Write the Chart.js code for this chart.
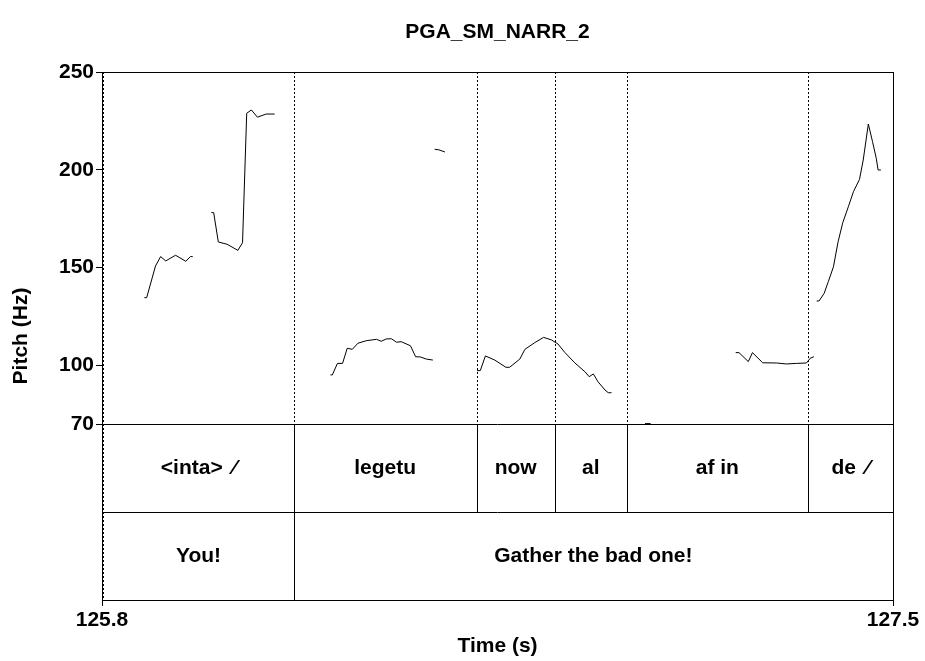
<!DOCTYPE html>
<html>
<head>
<meta charset="utf-8">
<script src="https://cdn.jsdelivr.net/npm/chart.js@4/dist/chart.umd.min.js"></script>
<style>
  html, body { margin: 0; padding: 0; background: #fff; }
  #wrap { width: 925px; height: 661px; }
</style>
</head>
<body>
<div id="wrap"><canvas id="myChart"></canvas></div>
<script>
  // pitch track (s, Hz); null = unvoiced gap
  const times = [
    125.891, 125.896, 125.915, 125.926, 125.937, 125.958, 125.980, 125.990, 125.995, 125.996,
    126.035, 126.040, 126.050, 126.069, 126.092, 126.102, 126.111, 126.121, 126.134, 126.153, 126.171, 126.172,
    126.291, 126.295, 126.306, 126.317, 126.327, 126.338, 126.350, 126.368, 126.390, 126.400, 126.411, 126.422, 126.433, 126.443, 126.463, 126.474, 126.484, 126.497, 126.511, 126.512,
    126.515, 126.524, 126.537, 126.538,
    126.606, 126.613, 126.624, 126.644, 126.668, 126.676, 126.698, 126.709, 126.730, 126.749, 126.766, 126.780, 126.795, 126.816, 126.838, 126.847, 126.856, 126.866, 126.881, 126.888, 126.895, 126.896,
    126.967, 126.979, 126.980,
    127.162, 127.169, 127.189, 127.198, 127.220, 127.250, 127.271, 127.293, 127.314, 127.322, 127.330, 127.331,
    127.336, 127.341, 127.352, 127.361, 127.372, 127.382, 127.392, 127.404, 127.415, 127.428, 127.436, 127.447, 127.456, 127.464, 127.468, 127.474
  ];
  const pitch = [
    134.6, 134.6, 150.8, 155.6, 153.4, 156.3, 153.2, 155.6, 155.6, null,
    178.1, 178.1, 163.1, 161.9, 158.8, 162.7, 228.9, 230.6, 226.9, 228.5, 228.5, null,
    95.1, 95.1, 101.0, 101.0, 108.7, 108.2, 111.3, 112.6, 113.3, 112.3, 113.5, 113.6, 111.8, 112.1, 110.0, 104.4, 104.3, 103.2, 102.7, null,
    210.5, 210.2, 209.1, null,
    97.3, 97.3, 104.8, 102.7, 99.0, 99.0, 103.2, 108.2, 111.6, 114.3, 113.0, 110.9, 106.5, 101.3, 96.7, 94.2, 95.6, 91.6, 87.4, 86.0, 86.0, null,
    70.2, 70.2, null,
    106.5, 106.5, 101.9, 106.5, 101.3, 101.2, 100.7, 101.0, 101.2, 103.6, 104.4, null,
    132.9, 132.9, 136.8, 142.8, 150.4, 163.2, 172.9, 181.1, 188.8, 195.1, 205.0, 223.4, 214.4, 205.9, 199.9, 199.9
  ];

  // text grid tiers
  const tier1Bounds = [125.803, 126.212, 126.605, 126.773, 126.928, 127.317, 127.5];
  const tier1Labels = ['<inta> \u2009\u2044', 'legetu', 'now', 'al', 'af in', 'de \u2009\u2044'];
  const tier2Bounds = [125.803, 126.212, 127.5];
  const tier2Labels = ['You!', 'Gather the bad one!'];

  const xTicks = [125.8, 127.5];
  const yTicks = [70, 100, 150, 200, 250];
  // tier rows sit under the pitch range, in the same y units
  const tierRows = [70, 25, -20];

  const FONT = 'Liberation Sans, Arial, sans-serif';
  const TITLE = 'PGA_SM_NARR_2';

  const tierPlugin = {
    id: 'tiers',
    afterDatasetsDraw(chart) {
      const ctx = chart.ctx;
      const x = chart.scales.x, y = chart.scales.y;
      const a = chart.chartArea;
      const yTop = y.getPixelForValue(250);
      const y70 = y.getPixelForValue(tierRows[0]);
      const yMid = y.getPixelForValue(tierRows[1]);
      const yBot = y.getPixelForValue(tierRows[2]);
      ctx.save();
      ctx.strokeStyle = '#000';
      ctx.lineWidth = 1;

      // dotted boundaries through the pitch area
      ctx.setLineDash([2, 2]);
      tier1Bounds.slice(0, -1).forEach((t, i) => {
        const px = Math.round(x.getPixelForValue(t)) + 0.5;
        ctx.beginPath();
        ctx.moveTo(px, yTop);
        ctx.lineTo(px, i === 0 ? yBot : y70);
        ctx.stroke();
      });
      ctx.setLineDash([]);

      // tier frames
      [y70, yMid].forEach(py => {
        py = Math.round(py) + 0.5;
        ctx.beginPath();
        ctx.moveTo(a.left, py);
        ctx.lineTo(a.right, py);
        ctx.stroke();
      });
      tier1Bounds.slice(1, -1).forEach(t => {
        const px = Math.round(x.getPixelForValue(t)) + 0.5;
        ctx.beginPath();
        ctx.moveTo(px, y70);
        ctx.lineTo(px, yMid);
        ctx.stroke();
      });
      tier2Bounds.slice(1, -1).forEach(t => {
        const px = Math.round(x.getPixelForValue(t)) + 0.5;
        ctx.beginPath();
        ctx.moveTo(px, yMid);
        ctx.lineTo(px, yBot);
        ctx.stroke();
      });

      // outer box
      ctx.strokeRect(Math.round(a.left) + 0.5, Math.round(a.top) + 0.5,
        Math.round(a.right - a.left), Math.round(a.bottom - a.top));

      // tier labels
      ctx.fillStyle = '#000';
      ctx.font = 'bold 21px ' + FONT;
      ctx.textAlign = 'center';
      ctx.textBaseline = 'middle';
      tier1Labels.forEach((lab, i) => {
        const cx = (x.getPixelForValue(tier1Bounds[i]) + x.getPixelForValue(tier1Bounds[i + 1])) / 2;
        ctx.fillText(lab, cx, (y70 + yMid) / 2);
      });
      tier2Labels.forEach((lab, i) => {
        const cx = (x.getPixelForValue(tier2Bounds[i]) + x.getPixelForValue(tier2Bounds[i + 1])) / 2;
        ctx.fillText(lab, cx, (yMid + yBot) / 2);
      });

      // title centred over the plot box
      ctx.fillText(TITLE, (a.left + a.right) / 2, 32);
      ctx.restore();
    }
  };

  const data = {
    datasets: [{
      label: 'Pitch',
      data: times.map((t, i) => ({ x: t, y: pitch[i] })),
      borderColor: '#000',
      backgroundColor: '#000',
      borderWidth: 1,
      pointRadius: 0,
      tension: 0,
      spanGaps: false,
    }]
  };

  const config = {
    type: 'line',
    data: data,
    options: {
      responsive: true,
      maintainAspectRatio: false,
      animation: false,
      layout: { padding: { left: 0, right: 32, top: 72, bottom: 0 } },
      plugins: {
        legend: { display: false },
        tooltip: { enabled: false },
        title: { display: false }
      },
      scales: {
        x: {
          type: 'linear',
          min: 125.8,
          max: 127.5,
          afterBuildTicks: (s) => { s.ticks = xTicks.map(v => ({ value: v })); },
          afterFit: (s) => { s.height = 61; },
          ticks: {
            color: '#000',
            padding: 2,
            maxRotation: 0,
            font: { family: FONT, size: 21, weight: 'bold' },
            callback: (v) => Number(v).toFixed(1)
          },
          grid: { drawOnChartArea: false, drawTicks: true, tickLength: 6, color: '#000' },
          border: { display: true, color: '#000', width: 1 },
          title: {
            display: true,
            text: 'Time (s)',
            color: '#000',
            font: { family: FONT, size: 21, weight: 'bold', lineHeight: 1.2 },
            padding: { top: 0, bottom: 2 }
          }
        },
        y: {
          type: 'linear',
          min: tierRows[2],
          max: 250,
          afterBuildTicks: (s) => { s.ticks = yTicks.map(v => ({ value: v })); },
          afterFit: (s) => { s.width = 102; },
          ticks: {
            color: '#000',
            padding: 2,
            font: { family: FONT, size: 21, weight: 'bold' },
            callback: (v) => String(v)
          },
          grid: { drawOnChartArea: false, drawTicks: true, tickLength: 6, color: '#000' },
          border: { display: true, color: '#000', width: 1 },
          title: {
            display: true,
            text: 'Pitch (Hz)',
            color: '#000',
            font: { family: FONT, size: 21, weight: 'bold', lineHeight: 1.2 },
            padding: { top: 9, bottom: 0 }
          }
        }
      }
    },
    plugins: [tierPlugin]
  };

  const myChart = new Chart(
    document.getElementById('myChart'),
    config
  );
</script>
</body>
</html>
